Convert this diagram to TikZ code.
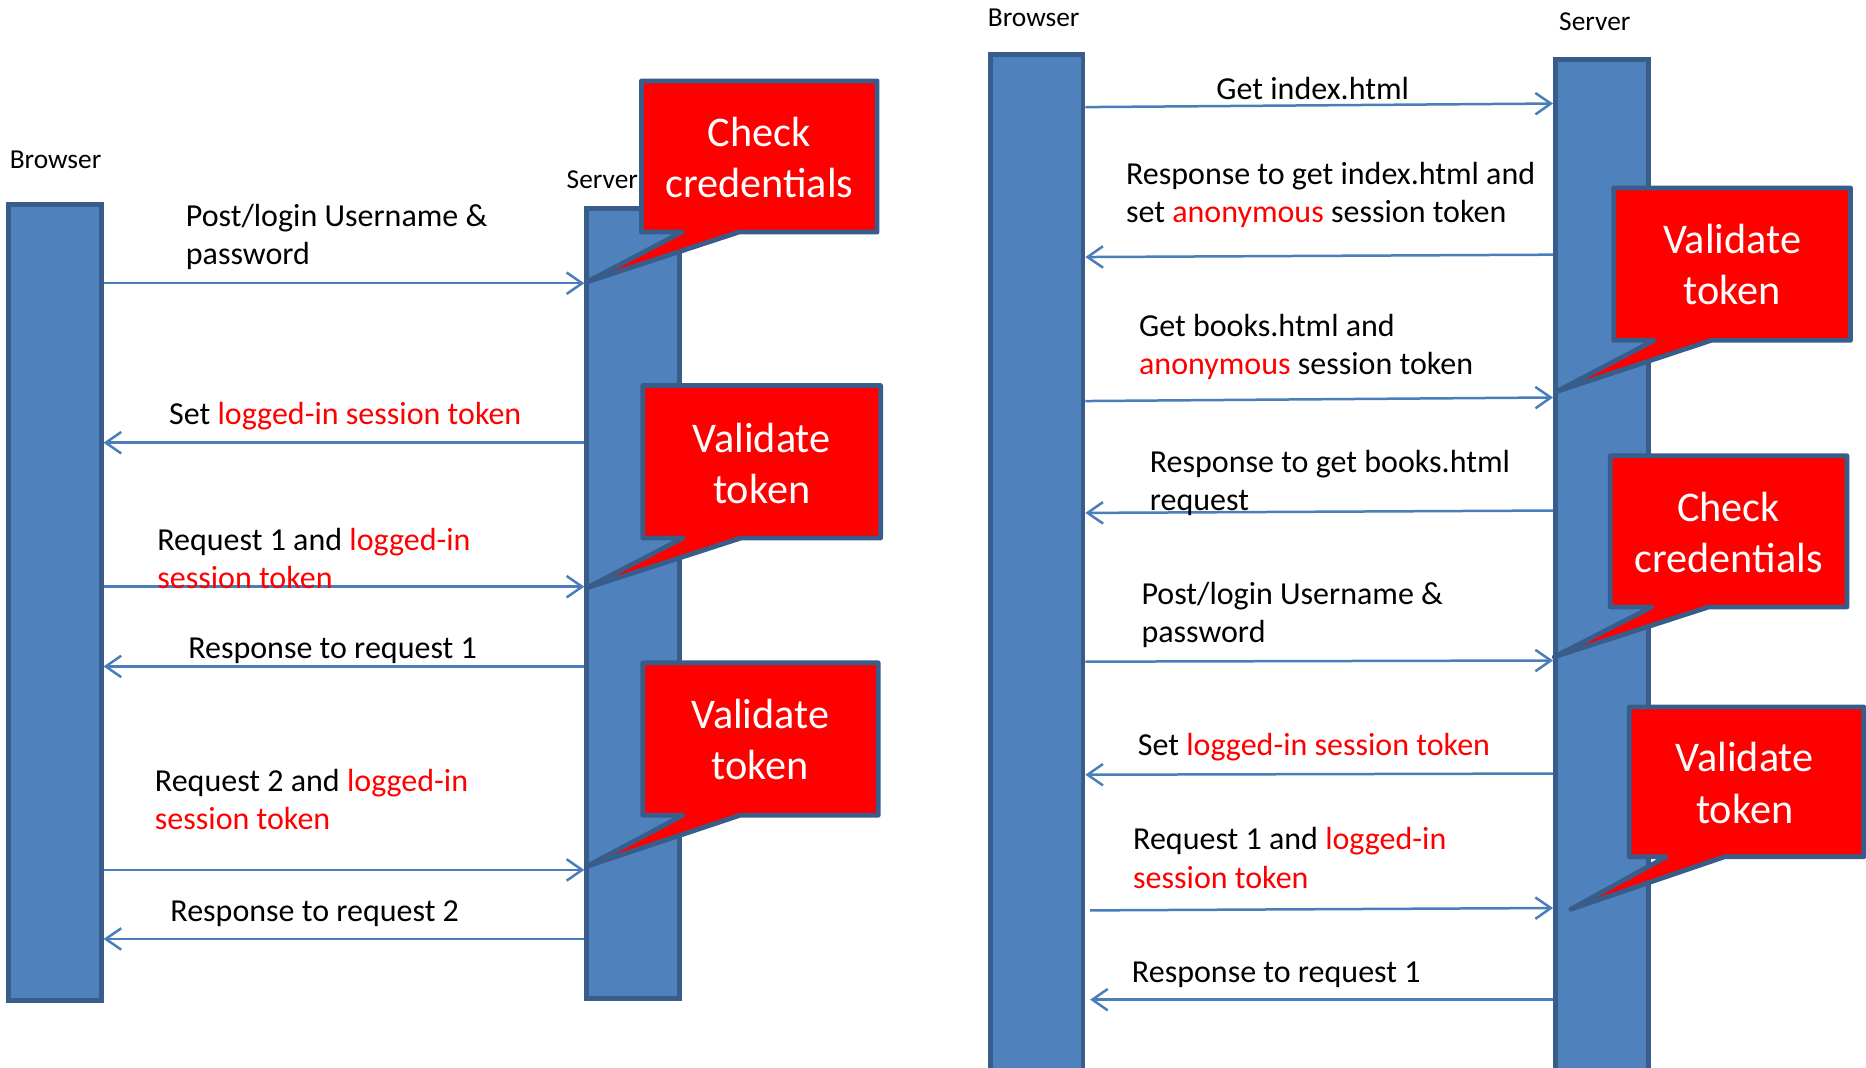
\documentclass[tikz,border=0pt]{standalone}
\usepackage{fontspec}
\setmainfont{Carlito}
\usetikzlibrary{arrows.meta,calc}

\definecolor{barfill}{HTML}{4F81BD}
\definecolor{barline}{HTML}{385D8A}
\definecolor{msgline}{HTML}{4A7EBB}
\definecolor{alertred}{HTML}{FF0000}

\newcommand{\hl}[1]{\textcolor{alertred}{#1}}

\tikzset{
  lifebar/.style={draw=barline, fill=barfill, line width=4pt, outer sep=2pt,
    minimum width=78pt, inner sep=0pt},
  msg/.style={draw=msgline, line width=2.1pt,
    -{Straight Barb[length=13pt,width=18pt,line width=2.1pt]}},
  msglabel/.style={font=\fontsize{26.9}{32}\selectfont, anchor=west, align=left, inner sep=0pt},
  actor/.style={font=\fontsize{23}{28}\selectfont, anchor=west, inner sep=0pt},
  bubble/.style={draw=barline, fill=alertred, line width=4pt, line join=round},
  bubbletext/.style={text=white, font=\fontsize{35.5}{43}\selectfont, align=center, inner sep=0pt},
}

\begin{document}
\begin{tikzpicture}[x=1pt, y=-1pt]
\useasboundingbox (0,0) rectangle (1568,897);
\clip (0,0) rectangle (1568,897);

% ---------------- left sequence: login first ----------------
\node[actor] (lbl) at (8,134) {Browser};
\node[actor] (lsl) at (476,151) {Server};
\node[lifebar, minimum height=669pt] (lb) at (46,506.5) {};
\node[lifebar, minimum height=664pt] (ls) at (532,507) {};

\draw[msg] (lb.east |- 0,238) -- (ls.west |- 0,238);
\node[msglabel] (l1) at (156,199.5) {Post/login Username \&\\password};

\draw[msg] (ls.west |- 0,372) -- (lb.east |- 0,372);
\node[msglabel] (l2) at (142,350) {Set \hl{logged-in session token}};

\draw[msg] (lb.east |- 0,493) -- (ls.west |- 0,493);
\node[msglabel] (l3) at (132,469) {Request 1 and \hl{logged-in}\\\hl{session token}};

\draw[msg] (ls.west |- 0,560) -- (lb.east |- 0,560);
\node[msglabel] (l4) at (158,547) {Response to request 1};

\draw[msg] (lb.east |- 0,731) -- (ls.west |- 0,731);
\node[msglabel] (l5) at (130,672) {Request 2 and \hl{logged-in}\\\hl{session token}};

\draw[msg] (ls.west |- 0,789) -- (lb.east |- 0,789);
\node[msglabel] (l6) at (143,768) {Response to request 2};

% speech bubbles on the left server
\draw[bubble] (539,68) -- (737,68) -- (737,195) -- (621,195) -- (493,237)
  -- (573,195) -- (539,195) -- cycle;
\node[bubbletext] (lc1) at (638,132.5) {Check\\credentials};

\draw[bubble] (540,324) -- (740,324) -- (740,452) -- (623,452) -- (493,494)
  -- (574,452) -- (540,452) -- cycle;
\node[bubbletext] (lc2) at (640,389.5) {Validate\\token};

\draw[bubble] (540,557) -- (738,557) -- (738,685) -- (622,685) -- (493,728)
  -- (574,685) -- (540,685) -- cycle;
\node[bubbletext] (lc3) at (639,621.5) {Validate\\token};

% ---------------- right sequence: anonymous session first ----------------
\node[actor] (rbl) at (830,15) {Browser};
\node[actor] (rsl) at (1310,18) {Server};
\node[lifebar, minimum height=864pt] (rb) at (871,478) {};
\node[lifebar, minimum height=860pt] (rs) at (1346,480) {};

\draw[msg] (rb.east |- 0,90) -- (rs.west |- 0,87);
\node[msglabel] (r1) at (1022,74) {Get index.html};

\draw[msg] (rs.west |- 0,214) -- (rb.east |- 0,216);
\node[msglabel] (r2) at (946,163.5) {Response to get index.html and\\set \hl{anonymous} session token};

\draw[msg] (rb.east |- 0,337) -- (rs.west |- 0,334);
\node[msglabel] (r3) at (957,291.5) {Get books.html and\\\hl{anonymous} session token};

\draw[msg] (rs.west |- 0,429) -- (rb.east |- 0,431);
\node[msglabel] (r4) at (966,406) {Response to get books.html\\request};

\draw[msg] (rb.east |- 0,556) -- (rs.west |- 0,555);
\node[msglabel] (r5) at (959,517) {Post/login Username \&\\password};

\draw[msg] (rs.west |- 0,650) -- (rb.east |- 0,651);
\node[msglabel] (r6) at (956,628) {Set \hl{logged-in session token}};

\draw[msg] ([xshift=4pt]rb.east |- 0,765) -- (rs.west |- 0,763);
\node[msglabel] (r7) at (952,721) {Request 1 and \hl{logged-in}\\\hl{session token}};

\draw[msg] (rs.west |- 0,840) -- ([xshift=4pt]rb.east |- 0,840);
\node[msglabel] (r8) at (951,819) {Response to request 1};

% speech bubbles on the right server
\draw[bubble] (1356,158) -- (1555,158) -- (1555,286) -- (1438,286) -- (1308,329)
  -- (1390,286) -- (1356,286) -- cycle;
\node[bubbletext] (rc1) at (1455.5,222.5) {Validate\\token};

\draw[bubble] (1353,383) -- (1552,383) -- (1552,510) -- (1436,510) -- (1306,552)
  -- (1388,510) -- (1353,510) -- cycle;
\node[bubbletext] (rc2) at (1452.5,447.5) {Check\\credentials};

\draw[bubble] (1369,594) -- (1566,594) -- (1566,720) -- (1449,720) -- (1320,764)
  -- (1400,720) -- (1369,720) -- cycle;
\node[bubbletext] (rc3) at (1466,658) {Validate\\token};
\end{tikzpicture}
\end{document}
